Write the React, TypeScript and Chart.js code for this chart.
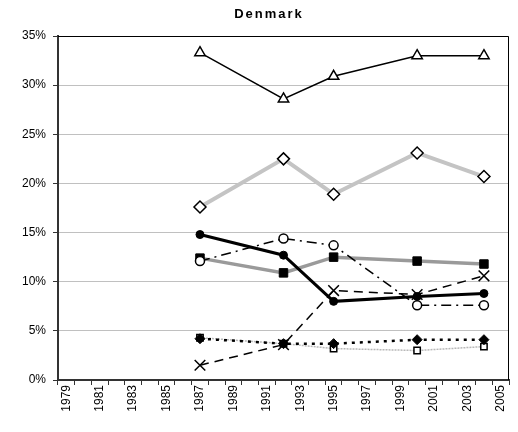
import React, { useEffect, useRef } from "react";
import { Chart, registerables } from "chart.js";

Chart.register(...registerables);

const chartTitle = "Denmark";
const categories = [
  "1979", "1980", "1981", "1982", "1983", "1984", "1985", "1986", "1987",
  "1988", "1989", "1990", "1991", "1992", "1993", "1994", "1995", "1996",
  "1997", "1998", "1999", "2000", "2001", "2002", "2003", "2004", "2005",
];
const surveyYears = ["1987", "1992", "1995", "2000", "2004"];
const triangles = [33.3, 28.6, 30.9, 33.0, 33.0];
const openDiamonds = [17.6, 22.5, 18.9, 23.1, 20.7];
const filledCircles = [14.8, 12.7, 8.0, 8.5, 8.8];
const openCircles = [12.1, 14.4, 13.7, 7.6, 7.6];
const filledSquares = [12.4, 10.9, 12.5, 12.1, 11.8];
const crosses = [1.5, 3.6, 9.1, 8.7, 10.6];
const filledDiamonds = [4.2, 3.7, 3.7, 4.1, 4.1];
const openSquares = [4.3, 3.7, 3.2, 3.0, 3.4];

const FONT = "'Liberation Sans', Arial, sans-serif";

function pts(values: number[]) {
  return values.map((y, i) => ({ x: surveyYears[i], y }));
}

const frameAndText = {
  id: "frameAndText",
  afterDraw(chart: any) {
    const { ctx, chartArea } = chart;
    const xs = chart.scales.x;
    ctx.save();
    ctx.strokeStyle = "#000";
    ctx.lineWidth = 1;
    ctx.beginPath();
    ctx.moveTo(chartArea.left, chartArea.top + 0.5);
    ctx.lineTo(chartArea.right - 0.5, chartArea.top + 0.5);
    ctx.lineTo(chartArea.right - 0.5, chartArea.bottom);
    ctx.stroke();

    ctx.fillStyle = "#000";
    ctx.font = "bold 13px " + FONT;
    (ctx as any).letterSpacing = "2px";
    ctx.textAlign = "center";
    ctx.textBaseline = "middle";
    ctx.fillText(chartTitle, 269, 14);
    (ctx as any).letterSpacing = "0px";

    ctx.font = "12px " + FONT;
    ctx.textAlign = "right";
    ctx.textBaseline = "middle";
    categories.forEach((label, i) => {
      if (i % 2 !== 0) return;
      const x = xs.getPixelForValue(i);
      ctx.save();
      ctx.translate(x, chartArea.bottom + 5);
      ctx.rotate(-Math.PI / 2);
      ctx.fillText(label, 0, 0);
      ctx.restore();
    });
    ctx.restore();
  },
};

export default function App() {
  const ref = useRef<HTMLCanvasElement>(null);
  useEffect(() => {
    document.body.style.margin = "0";
    const c = ref.current!;
    const chart = new Chart(c, {
      type: "line",
      data: {
        labels: categories,
        datasets: [
          {
            data: pts(triangles),
            borderColor: "#000",
            borderWidth: 1.5,
            pointStyle: "triangle",
            pointRadius: 6,
            pointBackgroundColor: "#fff",
            pointBorderColor: "#000",
            pointBorderWidth: 1.5,
          },
          {
            data: pts(openDiamonds),
            borderColor: "#c4c4c4",
            borderWidth: 4,
            pointStyle: "rectRot",
            pointRadius: 6,
            pointBackgroundColor: "#fff",
            pointBorderColor: "#000",
            pointBorderWidth: 1.5,
          },
          {
            data: pts(filledCircles),
            borderColor: "#000",
            borderWidth: 3,
            pointStyle: "circle",
            pointRadius: 4,
            pointBackgroundColor: "#000",
            pointBorderColor: "#000",
            pointBorderWidth: 1,
          },
          {
            data: pts(openCircles),
            borderColor: "#000",
            borderWidth: 1.5,
            borderDash: [10, 5, 2, 5],
            pointStyle: "circle",
            pointRadius: 4.5,
            pointBackgroundColor: "#fff",
            pointBorderColor: "#000",
            pointBorderWidth: 1.5,
          },
          {
            data: pts(filledSquares),
            borderColor: "#9a9a9a",
            borderWidth: 3.5,
            pointStyle: "rect",
            pointRadius: 6,
            pointBackgroundColor: "#000",
            pointBorderColor: "#000",
            pointBorderWidth: 1,
          },
          {
            data: pts(crosses),
            borderColor: "#000",
            borderWidth: 1.5,
            borderDash: [9, 6],
            pointStyle: "crossRot",
            pointRadius: 7.5,
            pointBorderColor: "#000",
            pointBorderWidth: 1.5,
          },
          {
            data: pts(filledDiamonds),
            borderColor: "#000",
            borderWidth: 2.5,
            borderDash: [3, 5],
            pointStyle: "rectRot",
            pointRadius: 5,
            pointBackgroundColor: "#000",
            pointBorderColor: "#000",
            pointBorderWidth: 1,
          },
          {
            data: pts(openSquares),
            borderColor: "#b8b8b8",
            borderWidth: 1.5,
            borderDash: [2, 1],
            pointStyle: "rect",
            pointRadius: 4.5,
            pointBackgroundColor: "#fff",
            pointBorderColor: "#000",
            pointBorderWidth: 1.5,
          },
        ],
      },
      options: {
        responsive: false,
        animation: false,
        layout: { padding: { top: 36, right: 1, bottom: 0, left: 0 } },
        plugins: {
          legend: { display: false },
          title: { display: false },
          tooltip: { enabled: false },
        },
        elements: { line: { tension: 0 } },
        scales: {
          x: {
            type: "category",
            offset: true,
            grid: {
              offset: true,
              drawOnChartArea: false,
              drawTicks: true,
              tickLength: 5,
              color: "#333",
            },
            border: { color: "#333", width: 2 },
            ticks: { display: false, autoSkip: false },
            afterFit: (s: any) => {
              s.height = 52;
            },
          },
          y: {
            min: 0,
            max: 35,
            grid: {
              color: "#c0c0c0",
              tickLength: 5,
              tickColor: "#333",
            },
            border: { color: "#333", width: 2 },
            ticks: {
              stepSize: 5,
              padding: 7,
              color: "#000",
              font: { family: FONT, size: 12 },
              callback: (v: any) => v + "%",
            },
            afterFit: (s: any) => {
              s.width = 58;
            },
          },
        },
      },
      plugins: [frameAndText],
    });
    return () => chart.destroy();
  }, []);
  return (
    <div style={{ width: 518, height: 432 }}>
      <canvas ref={ref} width={518} height={432} />
    </div>
  );
}
